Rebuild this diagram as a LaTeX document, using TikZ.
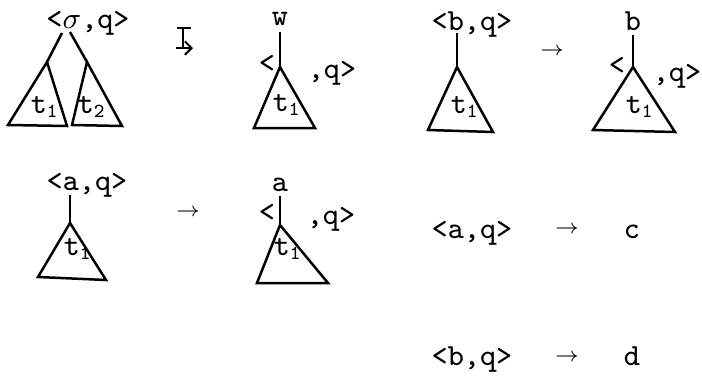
\documentclass[tikz,border=0pt]{standalone}
\usepackage{amsmath,amssymb}
\usepackage{tikz}
\usetikzlibrary{arrows.meta,positioning}

\begin{document}
\begin{tikzpicture}[x=0.3pt, y=-0.3pt, line width=0.75pt,
    every node/.style={font=\fontsize{9.2}{11}\selectfont\ttfamily, inner sep=0pt, anchor=base},
    leaf/.style={anchor=center},
    arr/.style={anchor=center, font=\fontsize{6}{7}\selectfont}]
    \useasboundingbox (0,0) rectangle (702,377);

    % Root labels
    \node (r1) at (88,28) {<$\sigma$,q>};
    \node (w) at (280,25) {w};
    \node (r3) at (472,30) {<b,q>};
    \node (b) at (633,30) {b};
    \node (r5) at (87,190) {<a,q>};
    \node (a) at (280,191) {a};

    % State brackets
    \node (lt2) at (267,72) {<};
    \node (q2) at (332,78) {,q>};
    \node (lt4) at (617,74) {<};
    \node (q4) at (677,81) {,q>};
    \node (lt6) at (267,221) {<};
    \node (q6) at (331,225) {,q>};

    % Triangle apexes
    \coordinate (a1) at (47,62);
    \coordinate (a1r) at (87,62);
    \coordinate (l1) at (62,33);
    \coordinate (k1) at (70,32);
    \coordinate (a2) at (280,67);
    \coordinate (a3) at (457,67);
    \coordinate (a4) at (633,67);
    \coordinate (a5) at (70,223);
    \coordinate (a6) at (280,225);

    % Edges
    \draw (l1) -- (a1);
    \draw (k1) -- (a1r);
    \draw ([yshift=-2pt]w.base -| a2) -- (a2);
    \draw ([yshift=-1pt]r3.base -| a3) -- (a3);
    \draw ([yshift=-1.5pt]b.base -| a4) -- (a4);
    \draw ([yshift=-1.5pt]r5.base -| a5) -- (a5);
    \draw ([yshift=-1.5pt]a.base -| a6) -- (a6);

    % Triangles
    \draw (a1) -- ++(-39,63) -- ++(59,1) -- cycle;
    \draw (a1r) -- ++(-15,63) -- ++(50,1) -- cycle;
    \draw (a2) -- ++(-26,61) -- ++(61,0) -- cycle;
    \draw (a3) -- ++(-29,63) -- ++(65,2) -- cycle;
    \draw (a4) -- ++(-40,63) -- ++(82,2) -- cycle;
    \draw (a5) -- ++(-32,54) -- ++(68,3) -- cycle;
    \draw (a6) -- ++(-23,58) -- ++(71,0) -- cycle;

    % Subtree names
    \node[leaf] (t1) at (45,107) {t$_{\mathtt{1}}$};
    \node[leaf] (t2) at (92,107) {t$_{\mathtt{2}}$};
    \node[leaf] (t3) at (287,105) {t$_{\mathtt{1}}$};
    \node[leaf] (t4) at (465,107) {t$_{\mathtt{1}}$};
    \node[leaf] (t5) at (640,107) {t$_{\mathtt{1}}$};
    \node[leaf] (t6) at (78,249) {t$_{\mathtt{1}}$};
    \node[leaf] (t7) at (288,249) {t$_{\mathtt{1}}$};

    % Rule arrows
    \coordinate (imap) at (183,28);
    \draw[line width=0.6pt] (imap) ++(-6,0) -- ++(14,0);
    \draw[line width=0.6pt] (imap) -- ++(0,20);
    \draw[line width=0.6pt, -{Straight Barb[length=2pt,width=4pt]}] (imap) ++(-7,20) -- ++(17,0);
    \node[arr] (to1) at (552,52) {$\rightarrow$};
    \node[arr] (to2) at (188,213) {$\rightarrow$};

    % Leaf rules
    \node (ra) at (472,238) {<a,q>};
    \node[arr] (to3) at (567,230) {$\rightarrow$};
    \node (c) at (632,238) {c};
    \node (rb) at (472,366) {<b,q>};
    \node[arr] (to4) at (567,358) {$\rightarrow$};
    \node (d) at (632,366) {d};
\end{tikzpicture}
\end{document}
